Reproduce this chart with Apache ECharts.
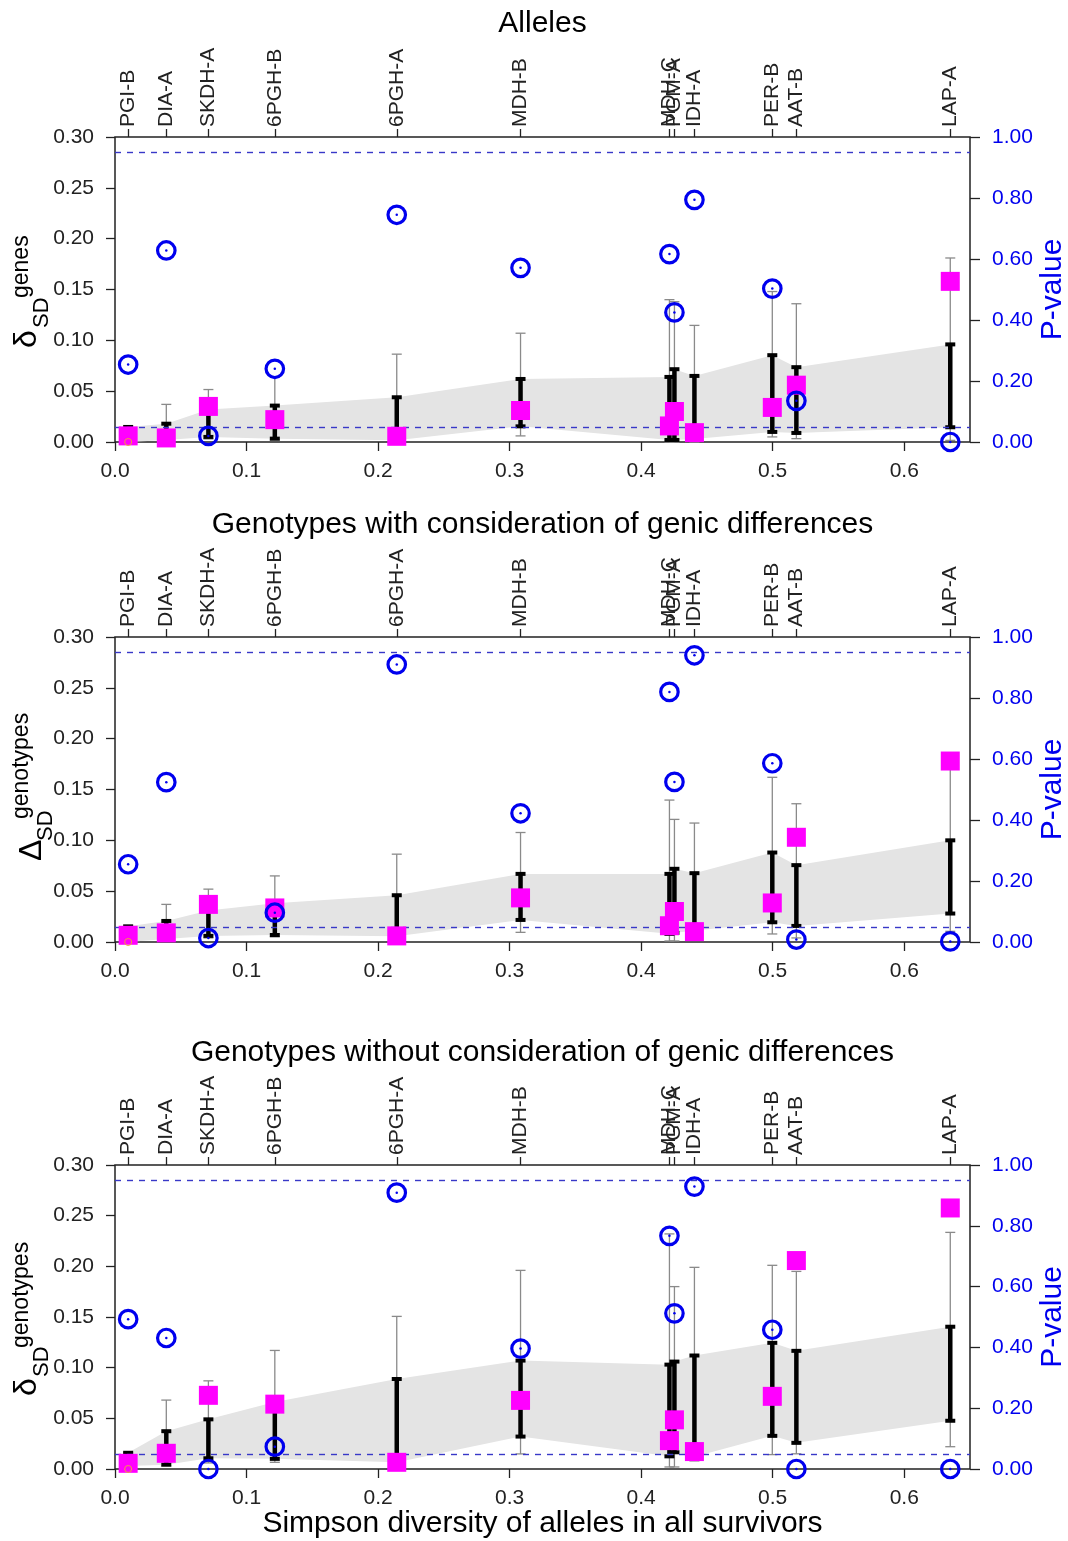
<!DOCTYPE html>
<html>
<head>
<meta charset="utf-8">
<script src="https://cdn.jsdelivr.net/npm/echarts@6/dist/echarts.min.js"></script>
<style>
html,body{margin:0;padding:0;background:#fff;}
#chart{width:1068px;height:1541px;}
</style>
</head>
<body>
<div id="chart"></div>
<script>
// ---------- data ----------
const genes   = ['PGI-B','DIA-A','SKDH-A','6PGH-B','6PGH-A','MDH-B','MDH-C','PGM-A','IDH-A','PER-B','AAT-B','LAP-A'];
const simpson = [0.010, 0.039, 0.071, 0.1215, 0.2142, 0.3083, 0.4215, 0.4253, 0.4405, 0.4997, 0.518, 0.635];

const xTicks = [0, 0.1, 0.2, 0.3, 0.4, 0.5, 0.6];
const pThresholds = [0.05, 0.95];

// Panel 1: Alleles
const allelesValue   = [0.006, 0.004, 0.035, 0.022, 0.0056, 0.031, 0.0158, 0.030, 0.0092, 0.034, 0.0559, 0.158];
const allelesP       = [0.254, 0.628, 0.020, 0.240, 0.745, 0.571, 0.616, 0.425, 0.794, 0.503, 0.135, 0.0];
const allelesThinLo  = [0.0, 0.001, 0.003, 0.002, 0.0, 0.006, 0.0, 0.0, 0.0, 0.005, 0.0033, 0.0016];
const allelesThinHi  = [0.013, 0.037, 0.0516, 0.064, 0.0864, 0.107, 0.140, 0.138, 0.1147, 0.148, 0.136, 0.181];
const allelesThickLo = [0.0, 0.002, 0.005, 0.0033, 0.0016, 0.0154, 0.002, 0.002, 0.003, 0.0099, 0.0089, 0.0145];
const allelesThickHi = [0.0148, 0.018, 0.032, 0.0358, 0.044, 0.062, 0.064, 0.0716, 0.065, 0.0854, 0.0736, 0.096];

// Panel 2: Genotypes with consideration of genic differences
const withValue   = [0.0066, 0.009, 0.037, 0.0335, 0.006, 0.0434, 0.016, 0.030, 0.0102, 0.0384, 0.103, 0.178];
const withP       = [0.255, 0.524, 0.013, 0.096, 0.910, 0.422, 0.820, 0.525, 0.940, 0.586, 0.008, 0.002];
const withThinLo  = [0.0, 0.002, 0.004, 0.005, 0.001, 0.0095, 0.001, 0.001, 0.002, 0.0079, 0.004, 0.0105];
const withThinHi  = [0.013, 0.037, 0.052, 0.065, 0.0864, 0.1077, 0.1396, 0.1206, 0.117, 0.162, 0.136, 0.178];
const withThickLo = [0.0, 0.003, 0.006, 0.0069, 0.0056, 0.0217, 0.008, 0.009, 0.011, 0.0194, 0.0158, 0.028];
const withThickHi = [0.0154, 0.0207, 0.031, 0.038, 0.046, 0.067, 0.067, 0.072, 0.0677, 0.088, 0.0756, 0.100];

// Panel 3: Genotypes without consideration of genic differences
const withoutValue   = [0.0056, 0.0155, 0.0727, 0.064, 0.0066, 0.0677, 0.028, 0.0485, 0.0172, 0.0717, 0.2057, 0.2576];
const withoutP       = [0.493, 0.431, 0.0, 0.0736, 0.909, 0.396, 0.767, 0.512, 0.929, 0.458, 0.0, 0.0];
const withoutThinLo  = [0.0, 0.003, 0.006, 0.0066, 0.002, 0.0149, 0.002, 0.002, 0.008, 0.0142, 0.015, 0.022];
const withoutThinHi  = [0.016, 0.068, 0.087, 0.117, 0.1506, 0.196, 0.232, 0.180, 0.199, 0.201, 0.195, 0.2335];
const withoutThickLo = [0.003, 0.0043, 0.0106, 0.010, 0.0066, 0.032, 0.0125, 0.0165, 0.012, 0.0327, 0.0258, 0.0476];
const withoutThickHi = [0.016, 0.0373, 0.049, 0.066, 0.0888, 0.107, 0.103, 0.106, 0.112, 0.1245, 0.1166, 0.1404];

// small orange ring at the first locus (value on left axis)
const ringX = [0.010];
const ringY = [0.0];

const panelTitles = ['Alleles', 'Genotypes with consideration of genic differences', 'Genotypes without consideration of genic differences'];
const xTitle = 'Simpson diversity of alleles in all survivors';

// ---------- layout ----------
const FONT = '"Liberation Sans", Arial, Helvetica, sans-serif';
const grids = [
  {top: 137, height: 305},
  {top: 637, height: 305},
  {top: 1165, height: 304}
];
const GL = 115, GR = 98;
const BLUE = '#0000ee';
const TICKFS = 21;

const chart = echarts.init(document.getElementById('chart'), null, {renderer: 'canvas'});

const gridOpts = [], xAxes = [], yAxes = [], series = [];

function errRender(color, lw, capW, capLw) {
  return function (params, api) {
    const x = api.value(0), lo = api.value(1), hi = api.value(2);
    const a = api.coord([x, lo]), b = api.coord([x, hi]);
    return {
      type: 'group',
      children: [
        {type: 'line', shape: {x1: a[0], y1: a[1], x2: b[0], y2: b[1]}, style: {stroke: color, lineWidth: lw}},
        {type: 'line', shape: {x1: a[0] - capW / 2, y1: a[1], x2: a[0] + capW / 2, y2: a[1]}, style: {stroke: color, lineWidth: capLw}},
        {type: 'line', shape: {x1: b[0] - capW / 2, y1: b[1], x2: b[0] + capW / 2, y2: b[1]}, style: {stroke: color, lineWidth: capLw}}
      ]
    };
  };
}

function addPanel(i, value, p, thinLo, thinHi, thickLo, thickHi) {
  gridOpts.push({
    left: GL, right: GR, top: grids[i].top, height: grids[i].height,
    show: true, borderColor: '#222', borderWidth: 1.5, backgroundColor: 'transparent',
    containLabel: false, outerBoundsMode: 'none'
  });
  // bottom numeric axis
  xAxes.push({
    type: 'value', gridIndex: i, position: 'bottom', min: 0, max: 0.65,
    axisLine: {show: false, onZero: false},
    axisTick: {show: true, length: 9, customValues: xTicks, lineStyle: {color: '#222', width: 1.3}},
    axisLabel: {show: true, customValues: xTicks, margin: 19, color: '#222', fontSize: TICKFS, fontFamily: FONT,
      formatter: v => v.toFixed(1)},
    splitLine: {show: false}
  });
  // top gene axis
  xAxes.push({
    type: 'value', gridIndex: i, position: 'top', min: 0, max: 0.65,
    axisLine: {show: false, onZero: false},
    axisTick: {show: true, length: 8, customValues: simpson, lineStyle: {color: '#222', width: 1.3}},
    axisLabel: {show: true, customValues: simpson, rotate: -90, margin: 10, color: '#222', fontSize: TICKFS, fontFamily: FONT,
      hideOverlap: false,
      formatter: function (v) {
        let best = 0, bd = Infinity;
        simpson.forEach((s, k) => { const d = Math.abs(s - v); if (d < bd) { bd = d; best = k; } });
        return genes[best];
      }},
    splitLine: {show: false}
  });
  yAxes.push({
    type: 'value', gridIndex: i, position: 'left', min: 0, max: 0.30, interval: 0.05,
    axisLine: {show: false, onZero: false},
    axisTick: {show: true, length: 9, lineStyle: {color: '#222', width: 1.3}},
    axisLabel: {margin: 21, color: '#222', fontSize: TICKFS, fontFamily: FONT, formatter: v => v.toFixed(2)},
    splitLine: {show: false}
  });
  yAxes.push({
    type: 'value', gridIndex: i, position: 'right', min: 0, max: 1, interval: 0.2,
    axisLine: {show: false, onZero: false},
    axisTick: {show: true, length: 10, lineStyle: {color: '#222', width: 1.3}},
    axisLabel: {margin: 22, color: BLUE, fontSize: TICKFS, fontFamily: FONT, formatter: v => v.toFixed(2)},
    splitLine: {show: false}
  });
  const xb = 2 * i, yl = 2 * i, yr = 2 * i + 1;

  // shaded band through the inner interval ends
  series.push({
    type: 'custom', xAxisIndex: xb, yAxisIndex: yl, z: 1, silent: true, clip: false,
    data: simpson.map((x, k) => [x, thickLo[k], thickHi[k]]),
    encode: {x: 0, y: [1, 2]},
    renderItem: function (params, api) {
      if (params.dataIndex !== 0) return null;
      const top = simpson.map((x, k) => api.coord([x, thickHi[k]]));
      const bot = simpson.map((x, k) => api.coord([x, thickLo[k]])).reverse();
      return {type: 'polygon', shape: {points: top.concat(bot)}, style: {fill: '#e4e4e4', stroke: null}};
    }
  });
  // dashed p-value thresholds
  series.push({
    type: 'line', xAxisIndex: xb, yAxisIndex: yr, z: 2, data: [], silent: true,
    markLine: {
      silent: true, symbol: ['none', 'none'], animation: false,
      label: {show: false},
      lineStyle: {type: [6, 6], color: '#3838c8', width: 1.4},
      data: pThresholds.map(v => ({yAxis: v}))
    }
  });
  // thin (outer) intervals
  series.push({
    type: 'custom', xAxisIndex: xb, yAxisIndex: yl, z: 3, silent: true,
    data: simpson.map((x, k) => [x, thinLo[k], thinHi[k]]),
    encode: {x: 0, y: [1, 2]},
    renderItem: errRender('#8a8a8a', 1.3, 10, 1.3)
  });
  // thick (inner) intervals
  series.push({
    type: 'custom', xAxisIndex: xb, yAxisIndex: yl, z: 4, silent: true,
    data: simpson.map((x, k) => [x, thickLo[k], thickHi[k]]),
    encode: {x: 0, y: [1, 2]},
    renderItem: errRender('#000', 4.5, 10, 4)
  });
  // observed values (magenta squares)
  series.push({
    type: 'scatter', xAxisIndex: xb, yAxisIndex: yl, z: 5, clip: false, silent: true,
    symbol: 'rect', symbolSize: 19,
    itemStyle: {color: '#ff00ff', opacity: 1},
    data: simpson.map((x, k) => [x, value[k]])
  });
  // p-values (blue circles)
  series.push({
    type: 'scatter', xAxisIndex: xb, yAxisIndex: yr, z: 6, clip: false, silent: true,
    symbol: 'circle', symbolSize: 17.5,
    itemStyle: {color: 'rgba(0,0,0,0)', borderColor: BLUE, borderWidth: 3.2, opacity: 1},
    data: simpson.map((x, k) => [x, p[k]])
  });
  series.push({
    type: 'scatter', xAxisIndex: xb, yAxisIndex: yr, z: 7, clip: false, silent: true,
    symbol: 'circle', symbolSize: 2.5,
    itemStyle: {color: BLUE, opacity: 1},
    data: simpson.map((x, k) => [x, p[k]])
  });
  // small orange ring
  series.push({
    type: 'scatter', xAxisIndex: xb, yAxisIndex: yl, z: 8, clip: false, silent: true,
    symbol: 'circle', symbolSize: 7,
    itemStyle: {color: 'rgba(0,0,0,0)', borderColor: '#f2a03a', borderWidth: 1, opacity: 1},
    data: ringX.map((x, k) => [x, ringY[k]])
  });
}

addPanel(0, allelesValue, allelesP, allelesThinLo, allelesThinHi, allelesThickLo, allelesThickHi);
addPanel(1, withValue, withP, withThinLo, withThinHi, withThickLo, withThickHi);
addPanel(2, withoutValue, withoutP, withoutThinLo, withoutThinHi, withoutThickLo, withoutThickHi);

// ---------- text elements ----------
const cx = GL + (1068 - GL - GR) / 2;
const graphics = [];
const titleY = [24, 525, 1053];
panelTitles.forEach((t, i) => {
  graphics.push({type: 'text', x: cx, y: titleY[i], silent: true,
    style: {text: t, fill: '#000', font: '30px ' + FONT, align: 'center', verticalAlign: 'middle'}});
  const gy = grids[i].top + grids[i].height / 2;
  graphics.push({type: 'text', x: 1053, y: gy, rotation: Math.PI / 2, silent: true,
    style: {text: 'P-value', fill: BLUE, font: '30px ' + FONT, align: 'center', verticalAlign: 'middle'}});
});
graphics.push({type: 'text', x: cx, y: 1524, silent: true,
  style: {text: xTitle, fill: '#000', font: '30px ' + FONT, align: 'center', verticalAlign: 'middle'}});

// left axis labels (rotated math-style)
const yLabels = [
  {x: 27, y: 348, main: 'δ', sup: 'genes', subDx: 20, subDy: 15, supDx: 50, supDy: -5},
  {x: 32, y: 861, main: 'Δ', sup: 'genotypes', subDx: 20, subDy: 14, supDx: 42, supDy: -10},
  {x: 27, y: 1396, main: 'δ', sup: 'genotypes', subDx: 19, subDy: 15, supDx: 48, supDy: -5}
];
yLabels.forEach(l => {
  graphics.push({
    type: 'group', x: l.x, y: l.y, rotation: Math.PI / 2, silent: true,
    children: [
      {type: 'text', x: 0, y: 0, style: {text: l.main, fill: '#000', font: '32px ' + FONT, align: 'left', verticalAlign: 'middle'}},
      {type: 'text', x: l.subDx, y: l.subDy, style: {text: 'SD', fill: '#000', font: '22px ' + FONT, align: 'left', verticalAlign: 'middle'}},
      {type: 'text', x: l.supDx, y: l.supDy, style: {text: l.sup, fill: '#000', font: '23px ' + FONT, align: 'left', verticalAlign: 'middle'}}
    ]
  });
});

chart.setOption({
  animation: false,
  backgroundColor: '#fff',
  textStyle: {fontFamily: FONT},
  grid: gridOpts,
  xAxis: xAxes,
  yAxis: yAxes,
  series: series,
  graphic: graphics
});
</script>
</body>
</html>
